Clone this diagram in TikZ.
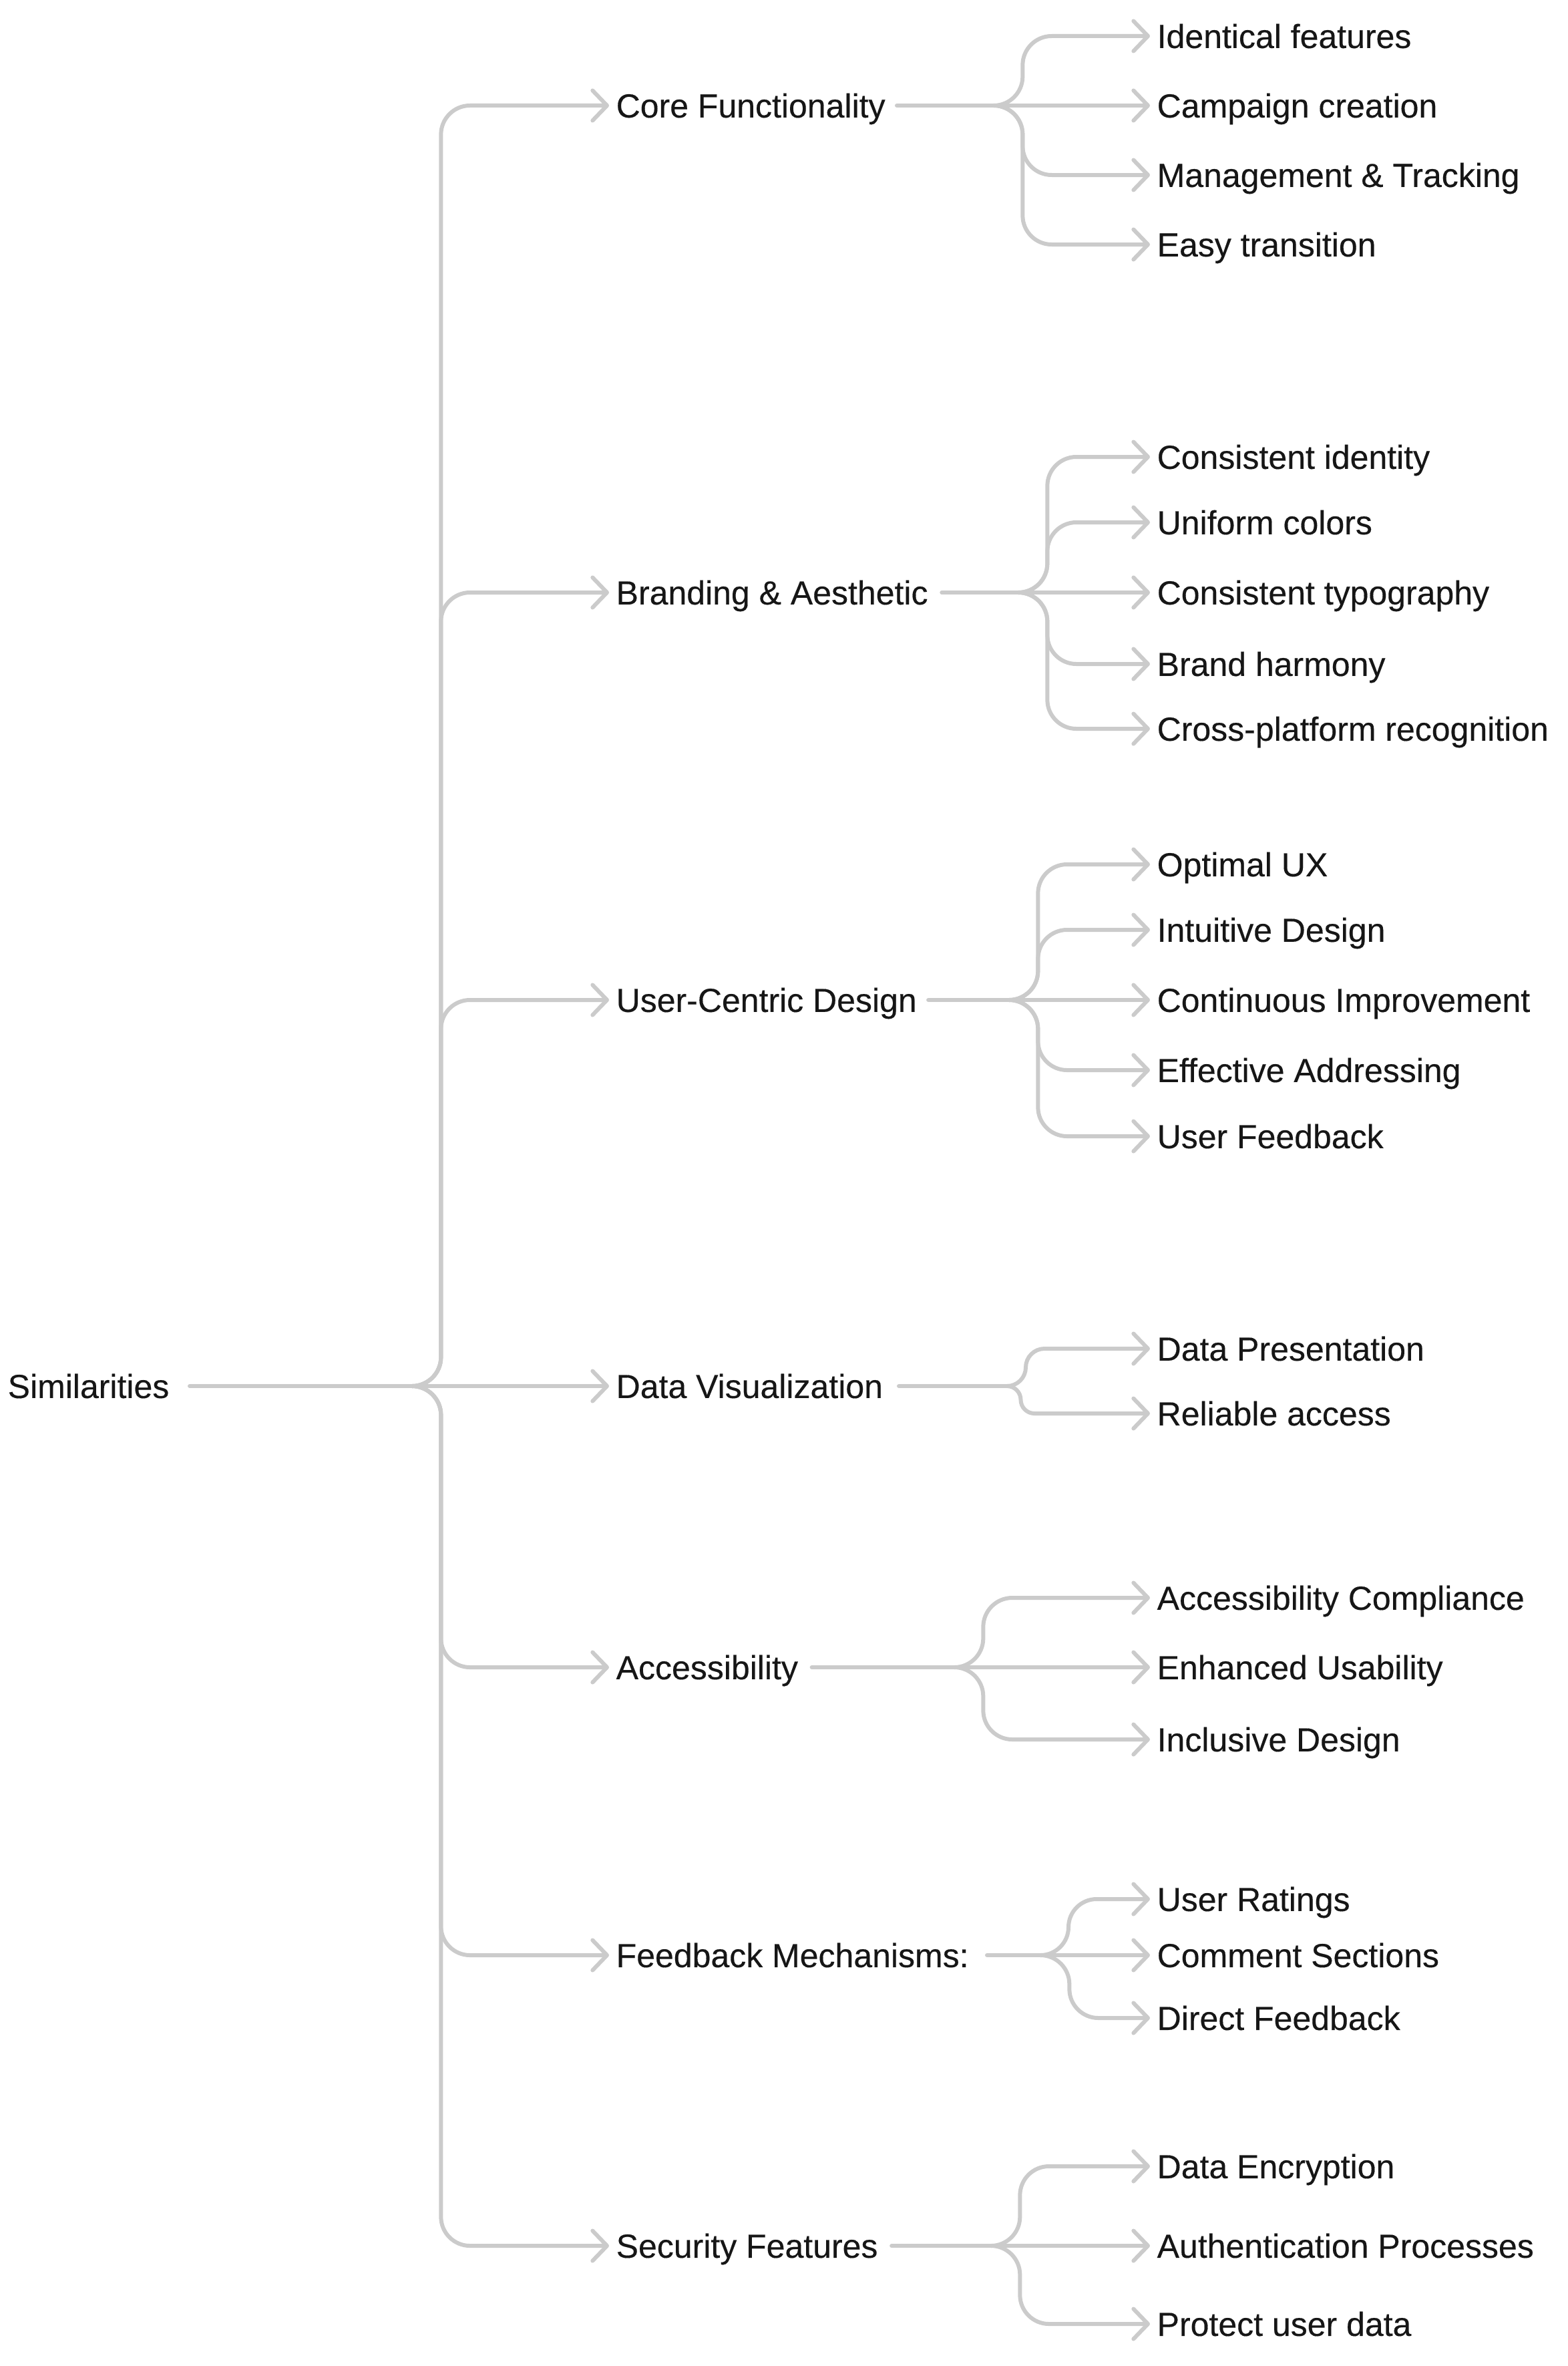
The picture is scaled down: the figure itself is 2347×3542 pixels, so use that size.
\documentclass[tikz,border=0pt]{standalone}
\usepackage{fontspec}
\setmainfont{Liberation Sans}[FakeBold=0.25]
\usetikzlibrary{arrows.meta,calc}
\definecolor{linkc}{HTML}{CBCBCB}
\definecolor{txtc}{HTML}{161616}
\begin{document}
\begin{tikzpicture}[x=0.3pt,y=-0.3pt,
  lbl/.style={anchor=west,inner xsep=3pt,inner ysep=0pt,text height=10.74pt,text depth=0pt,
    text=txtc,font=\fontsize{15}{18}\selectfont},
  link/.style={draw=linkc,line width=1.8pt,line cap=round,line join=round},
  arr/.style={-{Straight Barb[length=6.5pt,width=13.5pt,round]}},
  branch/.style={to path={
    let \p1=(\tikztostart), \p2=(\tikztotarget),
        \n1={\y2-\y1}, \n2={min(13,abs(\n1)/2)}, \n3={\n1/max(abs(\n1),0.001)} in
    .. controls ({\x1+0.55*\n2},\y1) and ({\x1+\n2},{\y1+\n3*0.45*\n2}) .. ({\x1+\n2},{\y1+\n3*\n2})
    -- ({\x1+\n2},{\y2-\n3*\n2})
    .. controls ({\x1+\n2},{\y2-\n3*0.45*\n2}) and ({\x1+1.45*\n2},\y2) .. ({\x1+2*\n2},\y2)
    -- (\tikztotarget)}}
]
\useasboundingbox (0,0) rectangle (2347,3542);

% root
\node[lbl] (root) at (1,2075) {Similarities};

% level 1
\node[lbl] (core)  at (912,158)  {Core Functionality};
\node[lbl] (brand) at (912,887)  {Branding \& Aesthetic};
\node[lbl] (uc)    at (912,1497) {User-Centric Design};
\node[lbl] (dv)    at (912,2075) {Data Visualization};
\node[lbl] (acc)   at (912,2496) {Accessibility};
\node[lbl] (fb)    at (912,2927) {Feedback Mechanisms:};
\node[lbl] (sec)   at (912,3362) {Security Features};

% level 2
\node[lbl] (c1) at (1722,54)  {Identical features};
\node[lbl] (c2) at (1722,158) {Campaign creation};
\node[lbl] (c3) at (1722,262) {Management \& Tracking};
\node[lbl] (c4) at (1722,366) {Easy transition};

\node[lbl] (b1) at (1722,684)  {Consistent identity};
\node[lbl] (b2) at (1722,782)  {Uniform colors};
\node[lbl] (b3) at (1722,887)  {Consistent typography};
\node[lbl] (b4) at (1722,994)  {Brand harmony};
\node[lbl] (b5) at (1722,1091) {Cross-platform recognition};

\node[lbl] (u1) at (1722,1294) {Optimal UX};
\node[lbl] (u2) at (1722,1392) {Intuitive Design};
\node[lbl] (u3) at (1722,1497) {Continuous Improvement};
\node[lbl] (u4) at (1722,1602) {Effective Addressing};
\node[lbl] (u5) at (1722,1701) {User Feedback};

\node[lbl] (d1) at (1722,2019) {Data Presentation};
\node[lbl] (d2) at (1722,2116) {Reliable access};

\node[lbl] (a1) at (1722,2392) {Accessibility Compliance};
\node[lbl] (a2) at (1722,2496) {Enhanced Usability};
\node[lbl] (a3) at (1722,2604) {Inclusive Design};

\node[lbl] (f1) at (1722,2843) {User Ratings};
\node[lbl] (f2) at (1722,2927) {Comment Sections};
\node[lbl] (f3) at (1722,3021) {Direct Feedback};

\node[lbl] (s1) at (1722,3243) {Data Encryption};
\node[lbl] (s2) at (1722,3362) {Authentication Processes};
\node[lbl] (s3) at (1722,3479) {Protect user data};

% junctions
\coordinate (j0) at (617,2075);
\coordinate (jc) at (1488,158);
\coordinate (jb) at (1525,887);
\coordinate (ju) at (1511,1497);
\coordinate (jd) at (1508,2075);
\coordinate (ja) at (1429,2496);
\coordinate (jf) at (1558,2927);
\coordinate (js) at (1484,3362);

% root links
\draw[link] ([xshift=6pt]root.east) -- (j0);
\foreach \t in {core,brand,uc,dv,acc,fb,sec}
  \draw[link,arr] (j0) to[branch] (\t.west);

% level-1 outgoing lines
\draw[link] ([xshift=2pt]core.east)  -- (jc);
\draw[link] ([xshift=3pt]brand.east) -- (jb);
\draw[link] ([xshift=2pt]uc.east)    -- (ju);
\draw[link] ([xshift=4pt]dv.east)    -- (jd);
\draw[link] ([xshift=3pt]acc.east)   -- (ja);
\draw[link] ([xshift=5pt]fb.east)    -- (jf);
\draw[link] ([xshift=3pt]sec.east)   -- (js);

% level-2 links
\foreach \t in {c1,c2,c3,c4} \draw[link,arr] (jc) to[branch] (\t.west);
\foreach \t in {b1,b2,b3,b4,b5} \draw[link,arr] (jb) to[branch] (\t.west);
\foreach \t in {u1,u2,u3,u4,u5} \draw[link,arr] (ju) to[branch] (\t.west);
\foreach \t in {d1,d2} \draw[link,arr] (jd) to[branch] (\t.west);
\foreach \t in {a1,a2,a3} \draw[link,arr] (ja) to[branch] (\t.west);
\foreach \t in {f1,f2,f3} \draw[link,arr] (jf) to[branch] (\t.west);
\foreach \t in {s1,s2,s3} \draw[link,arr] (js) to[branch] (\t.west);
\end{tikzpicture}
\end{document}
